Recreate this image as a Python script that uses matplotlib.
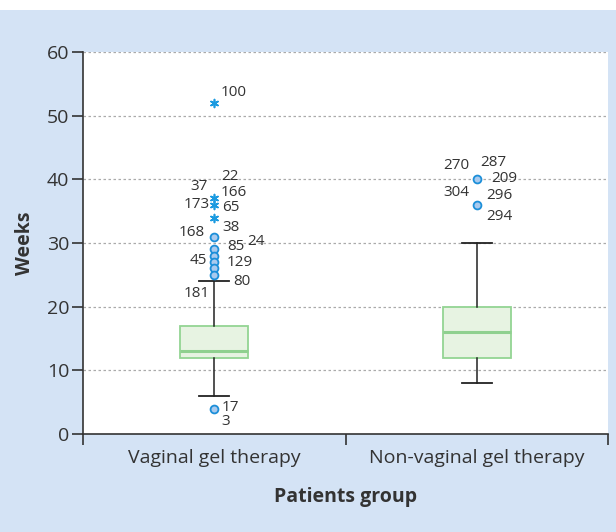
import matplotlib
matplotlib.use("Agg")
import matplotlib.pyplot as plt
from matplotlib.patches import Rectangle

# box statistics (weeks)
groups = ["Vaginal gel therapy", "Non-vaginal gel therapy"]
q1 = [12, 12]
med = [13, 16]
q3 = [17, 20]
whislo = [6, 8]
whishi = [24, 30]

# outliers
circle_grp = [0, 0, 0, 0, 0, 0, 0, 1, 1]
circle_val = [31, 29, 28, 27, 26, 25, 4, 40, 36]
star_grp = [0, 0, 0, 0]
star_val = [52, 37, 36, 34]

# case labels next to outliers
lab_text = ["100", "22", "37", "166", "173", "65", "38", "168", "85", "24",
            "45", "129", "80", "181", "17", "3",
            "270", "287", "209", "304", "296", "294"]
lab_grp = [0] * 16 + [1] * 6
lab_val = [53.6, 40.4, 38.8, 37.9, 36.0, 35.5, 32.5, 31.7, 29.4, 30.3,
           27.3, 26.9, 24.0, 22.1, 4.2, 2.0,
           42.1, 42.6, 40.1, 38.0, 37.5, 34.2]
lab_dx = [0.023, 0.026, -0.024, 0.026, -0.016, 0.03, 0.03, -0.035, 0.049, 0.125,
          -0.028, 0.049, 0.072, -0.016, 0.03, 0.026,
          -0.03, 0.012, 0.054, -0.03, 0.035, 0.035]
lab_ha = ["left", "left", "right", "left", "right", "left", "left", "right", "left", "left",
          "right", "left", "left", "right", "left", "left",
          "right", "left", "left", "right", "left", "left"]

blue_bg = "#d4e3f5"
txt = "#333333"
fig = plt.figure(figsize=(6.16, 5.32), dpi=100, facecolor=blue_bg)
fig.patches.append(Rectangle((0, 1 - 10 / 532), 1, 10 / 532, transform=fig.transFigure,
                             facecolor="white", edgecolor="none", zorder=-1))
ax = fig.add_axes([83 / 616, (532 - 434) / 532, (608 - 83) / 616, (434 - 52) / 532])
ax.set_facecolor("white")

pos = [0.5, 1.5]
stats = []
for i in range(2):
    stats.append(dict(med=med[i], q1=q1[i], q3=q3[i], whislo=whislo[i],
                      whishi=whishi[i], fliers=[], label=groups[i]))
ax.bxp(stats, positions=pos, widths=0.26, patch_artist=True, showfliers=False,
       boxprops=dict(facecolor="#e7f3e2", edgecolor="#93d493", linewidth=1.3),
       medianprops=dict(color="#8fd08f", linewidth=2.2),
       whiskerprops=dict(color="#222222", linewidth=1.1),
       capprops=dict(color="#222222", linewidth=1.3),
       capwidths=0.115, zorder=3)

ax.scatter([pos[g] for g in circle_grp], circle_val, s=32, facecolor="#a9caee",
           edgecolor="#1c8fd9", linewidth=1.3, zorder=4)
ax.scatter([pos[g] for g in star_grp], star_val, s=32, marker=(6, 2, 0),
           color="#1a9ae0", linewidth=1.2, zorder=4)

for t, g, v, dx, ha in zip(lab_text, lab_grp, lab_val, lab_dx, lab_ha):
    ax.text(pos[g] + dx, v, t, fontsize=11, color=txt, va="center", ha=ha,
            family="Open Sans", zorder=5)

ax.set_xlim(0, 2)
ax.set_ylim(0, 60)
ax.set_yticks(range(0, 61, 10))
ax.set_xticks([0, 1, 2])
ax.set_xticklabels([])
ax.set_xticks(pos, minor=True)
ax.set_xticklabels(groups, minor=True, fontsize=14, family="Open Sans", color=txt)
ax.tick_params(axis="x", which="minor", length=0, pad=11)
ax.tick_params(axis="x", which="major", length=8, width=1.2, color=txt, direction="out")
ax.tick_params(axis="y", length=8, width=1.2, color=txt, labelsize=14,
               labelcolor=txt, pad=2)
for lbl in ax.get_yticklabels():
    lbl.set_family("Open Sans")

for y in range(10, 61, 10):
    ax.axhline(y, color="#aaaaaa", linestyle=(0, (2, 2)), linewidth=0.9, zorder=1)

for s in ["top", "right"]:
    ax.spines[s].set_visible(False)
for s in ["left", "bottom"]:
    ax.spines[s].set_color(txt)
    ax.spines[s].set_linewidth(1.2)

ax.set_ylabel("Weeks", fontsize=14, fontweight="bold", family="Open Sans", labelpad=8,
              color=txt)
ax.set_xlabel("Patients group", fontsize=14, fontweight="bold", family="Open Sans",
              labelpad=14, color=txt)

fig.savefig("out.png", dpi=100, facecolor=blue_bg)
